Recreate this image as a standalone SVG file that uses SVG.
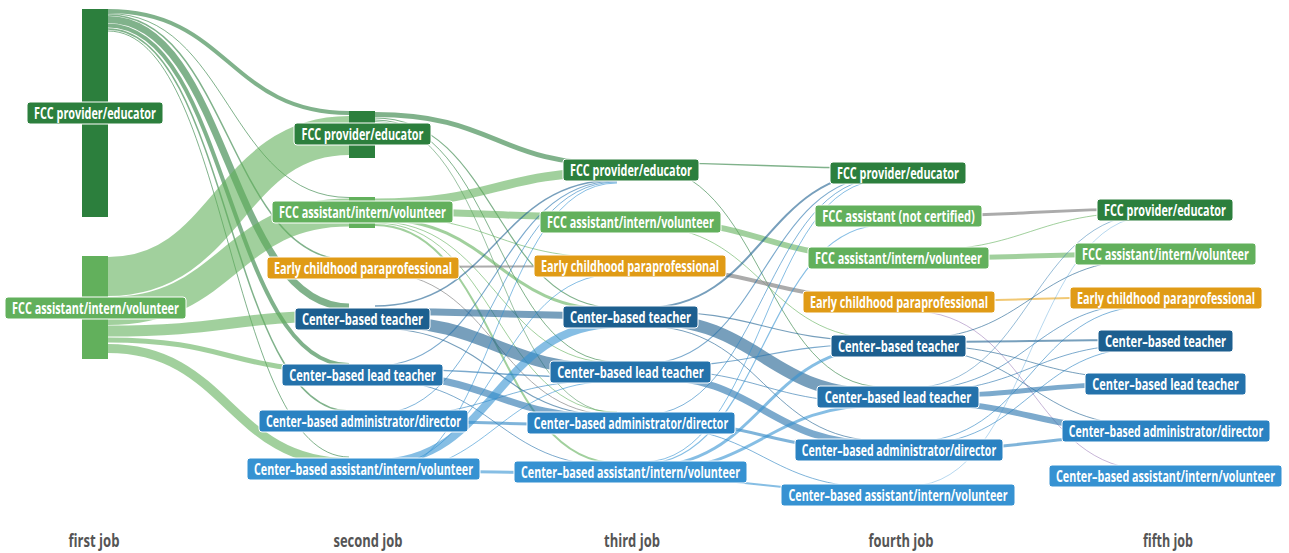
<svg xmlns="http://www.w3.org/2000/svg" width="1289" height="553" viewBox="0 0 1289 553">
<style>
.lk{fill:none}
.dg{stroke:#2c7f3d;stroke-opacity:.6}
.lg{stroke:#62b05c;stroke-opacity:.6}
.gy{stroke:#8f8f8f;stroke-opacity:.75}
.or{stroke:#e8a317;stroke-opacity:.6}
.pu{stroke:#9a7bb8;stroke-opacity:.7}
.te{stroke:#1d5f8f;stroke-opacity:.6}
.le{stroke:#2472ab;stroke-opacity:.6}
.ad{stroke:#2a82c2;stroke-opacity:.6}
.as{stroke:#3692d2;stroke-opacity:.6}
.lab rect{stroke:#ffffff;stroke-width:1}
.lab text{font-family:"Open Sans","Liberation Sans",sans-serif;font-weight:700;font-size:16px;fill:#ffffff;text-anchor:middle}
.c-dg{fill:#2c7f3d}.c-lg{fill:#62b05c}.c-or{fill:#e09b16}.c-te{fill:#1d5f8f}.c-le{fill:#2472ab}.c-ad{fill:#2a82c2}.c-as{fill:#3692d2}
.axis{font-family:"Open Sans","Liberation Sans",sans-serif;font-weight:700;font-size:17px;fill:#555555;text-anchor:middle}
</style>
<g id="links">
<path class="lk dg" stroke-width="4" d="M108 11 C228.5 11 228.5 113 349 113"/>
<path class="lk dg" stroke-width="1" d="M108 13.5 C228.5 13.5 228.5 197.5 349 197.5"/>
<path class="lk dg" stroke-width="1.5" d="M108 15 C228.5 15 228.5 260 349 260"/>
<path class="lk dg" stroke-width="7" d="M108 19.5 C228.5 19.5 228.5 307 349 307"/>
<path class="lk dg" stroke-width="4" d="M108 25.5 C228.5 25.5 228.5 365 349 365"/>
<path class="lk dg" stroke-width="1.5" d="M108 29 C228.5 29 228.5 411 349 411"/>
<path class="lk dg" stroke-width="1" d="M108 31 C228.5 31 228.5 457 349 457"/>
<path class="lk lg" stroke-width="39" d="M108 276.5 C228.5 276.5 228.5 135.5 349 135.5"/>
<path class="lk lg" stroke-width="28" d="M108 311 C228.5 311 228.5 212.5 349 212.5"/>
<path class="lk lg" stroke-width="11" d="M108 331 C228.5 331 228.5 316 349 316"/>
<path class="lk lg" stroke-width="5" d="M108 340 C228.5 340 228.5 371 349 371"/>
<path class="lk lg" stroke-width="9" d="M108 348.5 C228.5 348.5 228.5 462.5 349 462.5"/>
<path class="lk dg" stroke-width="5" d="M375 114.5 C496 114.5 496 164.5 617 164.5"/>
<path class="lk dg" stroke-width="1.2" d="M375 118 C496 118 496 308 617 308"/>
<path class="lk dg" stroke-width="1" d="M375 120 C496 120 496 362 617 362"/>
<path class="lk dg" stroke-width=".8" d="M375 121.5 C496 121.5 496 413 617 413"/>
<path class="lk lg" stroke-width="9" d="M375 203 C496 203 496 172 617 172"/>
<path class="lk lg" stroke-width="7" d="M375 211.5 C496 211.5 496 217.5 617 217.5"/>
<path class="lk lg" stroke-width="1" d="M375 216 C496 216 496 258 617 258"/>
<path class="lk lg" stroke-width="3" d="M375 219 C496 219 496 310 617 310"/>
<path class="lk lg" stroke-width="1" d="M375 221.5 C496 221.5 496 363 617 363"/>
<path class="lk lg" stroke-width="1" d="M375 223 C496 223 496 412 617 412"/>
<path class="lk lg" stroke-width="2" d="M375 225 C496 225 496 463 617 463"/>
<path class="lk gy" stroke-width="2" d="M375 267 C496 267 496 266 617 266"/>
<path class="lk gy" stroke-width="1" d="M375 272 C496 272 496 415 617 415"/>
<path class="lk te" stroke-width="1.5" d="M375 306 C496 306 496 180 617 180"/>
<path class="lk te" stroke-width="7" d="M375 311.5 C496 311.5 496 315.5 617 315.5"/>
<path class="lk te" stroke-width="12" d="M375 321 C496 321 496 370 617 370"/>
<path class="lk te" stroke-width="1.2" d="M375 328 C496 328 496 416 617 416"/>
<path class="lk le" stroke-width="1.2" d="M375 366 C496 366 496 181 617 181"/>
<path class="lk le" stroke-width="1.5" d="M375 369 C496 369 496 378 617 378"/>
<path class="lk le" stroke-width="7" d="M375 375 C496 375 496 418 617 418"/>
<path class="lk le" stroke-width="1" d="M375 380 C496 380 496 466 617 466"/>
<path class="lk ad" stroke-width="1" d="M375 414 C496 414 496 182 617 182"/>
<path class="lk ad" stroke-width="1" d="M375 417 C496 417 496 380 617 380"/>
<path class="lk ad" stroke-width="3" d="M375 421 C496 421 496 425 617 425"/>
<path class="lk as" stroke-width="8" d="M375 463 C496 463 496 324 617 324"/>
<path class="lk as" stroke-width="1" d="M375 468 C496 468 496 274 617 274"/>
<path class="lk as" stroke-width="3" d="M375 471 C496 471 496 473 617 473"/>
<path class="lk as" stroke-width="1" d="M375 474 C496 474 496 381 617 381"/>
<path class="lk as" stroke-width="1" d="M375 476 C496 476 496 183 617 183"/>
<path class="lk dg" stroke-width="1.5" d="M643 163 C763.5 163 763.5 168 884 168"/>
<path class="lk dg" stroke-width="1" d="M643 166 C763.5 166 763.5 387 884 387"/>
<path class="lk lg" stroke-width="6" d="M643 221 C763.5 221 763.5 257 884 257"/>
<path class="lk lg" stroke-width="1" d="M643 226 C763.5 226 763.5 339 884 339"/>
<path class="lk gy" stroke-width="4" d="M643 268 C763.5 268 763.5 298 884 298"/>
<path class="lk te" stroke-width="2" d="M643 308 C763.5 308 763.5 172 884 172"/>
<path class="lk te" stroke-width="1.2" d="M643 311 C763.5 311 763.5 341 884 341"/>
<path class="lk te" stroke-width="12" d="M643 319 C763.5 319 763.5 395 884 395"/>
<path class="lk te" stroke-width="1" d="M643 326 C763.5 326 763.5 441 884 441"/>
<path class="lk le" stroke-width="1.2" d="M643 364 C763.5 364 763.5 176 884 176"/>
<path class="lk le" stroke-width="1.2" d="M643 367 C763.5 367 763.5 344 884 344"/>
<path class="lk le" stroke-width="1" d="M643 369.5 C763.5 369.5 763.5 403 884 403"/>
<path class="lk le" stroke-width="7" d="M643 375.5 C763.5 375.5 763.5 444.5 884 444.5"/>
<path class="lk ad" stroke-width="1" d="M643 415 C763.5 415 763.5 178 884 178"/>
<path class="lk ad" stroke-width="3" d="M643 421 C763.5 421 763.5 450 884 450"/>
<path class="lk ad" stroke-width="1" d="M643 426 C763.5 426 763.5 488 884 488"/>
<path class="lk as" stroke-width="1" d="M643 462 C763.5 462 763.5 180 884 180"/>
<path class="lk as" stroke-width="1.2" d="M643 464 C763.5 464 763.5 225 884 225"/>
<path class="lk as" stroke-width="3" d="M643 467 C763.5 467 763.5 347 884 347"/>
<path class="lk as" stroke-width="3" d="M643 471 C763.5 471 763.5 405 884 405"/>
<path class="lk as" stroke-width="2" d="M643 478 C763.5 478 763.5 492 884 492"/>
<path class="lk gy" stroke-width="3" d="M910 216 C1030.5 216 1030.5 209 1151 209"/>
<path class="lk lg" stroke-width="1" d="M910 251 C1030.5 251 1030.5 212 1151 212"/>
<path class="lk lg" stroke-width="5" d="M910 258 C1030.5 258 1030.5 254 1151 254"/>
<path class="lk or" stroke-width="2" d="M910 301 C1030.5 301 1030.5 297 1151 297"/>
<path class="lk pu" stroke-width=".8" d="M910 311 C1030.5 311 1030.5 470 1151 470"/>
<path class="lk te" stroke-width="1" d="M910 339 C1030.5 339 1030.5 259 1151 259"/>
<path class="lk te" stroke-width="2" d="M910 342 C1030.5 342 1030.5 340 1151 340"/>
<path class="lk te" stroke-width="1" d="M910 345 C1030.5 345 1030.5 379 1151 379"/>
<path class="lk te" stroke-width="1" d="M910 349 C1030.5 349 1030.5 426 1151 426"/>
<path class="lk le" stroke-width=".8" d="M910 388 C1030.5 388 1030.5 214 1151 214"/>
<path class="lk le" stroke-width="1" d="M910 390 C1030.5 390 1030.5 303 1151 303"/>
<path class="lk le" stroke-width="1" d="M910 392 C1030.5 392 1030.5 344 1151 344"/>
<path class="lk le" stroke-width="5" d="M910 396 C1030.5 396 1030.5 384 1151 384"/>
<path class="lk le" stroke-width="6" d="M910 402 C1030.5 402 1030.5 430 1151 430"/>
<path class="lk ad" stroke-width="1" d="M910 442 C1030.5 442 1030.5 306 1151 306"/>
<path class="lk ad" stroke-width="1" d="M910 445 C1030.5 445 1030.5 347 1151 347"/>
<path class="lk ad" stroke-width="3" d="M910 450 C1030.5 450 1030.5 436 1151 436"/>
<path class="lk as" stroke-width=".6" d="M910 486 C1030.5 486 1030.5 216 1151 216"/>
</g>
<g id="col1-fcc-provider" class="lab">
<rect class="c-dg" x="82" y="9" width="26" height="208" style="stroke:none"/>
<rect class="c-dg" x="27" y="102" width="136" height="22" rx="3"/>
<text transform="translate(95 118.7) scale(0.67 1)" textLength="182" lengthAdjust="spacingAndGlyphs">FCC provider/educator</text>
</g>
<g id="col1-fcc-assistant" class="lab">
<rect class="c-lg" x="82" y="256" width="26" height="103" style="stroke:none"/>
<rect class="c-lg" x="5" y="297" width="181" height="22" rx="3"/>
<text transform="translate(95.5 313.7) scale(0.67 1)" textLength="249" lengthAdjust="spacingAndGlyphs">FCC assistant/intern/volunteer</text>
</g>
<g id="col2-fcc-provider" class="lab">
<rect class="c-dg" x="349" y="111" width="26" height="47" style="stroke:none"/>
<rect class="c-dg" x="294" y="123" width="137" height="22" rx="3"/>
<text transform="translate(362.5 139.7) scale(0.67 1)" textLength="182" lengthAdjust="spacingAndGlyphs">FCC provider/educator</text>
</g>
<g id="col2-fcc-assistant" class="lab">
<rect class="c-lg" x="349" y="197" width="26" height="31" style="stroke:none"/>
<rect class="c-lg" x="272" y="201" width="181" height="22" rx="3"/>
<text transform="translate(362.5 217.7) scale(0.67 1)" textLength="249" lengthAdjust="spacingAndGlyphs">FCC assistant/intern/volunteer</text>
</g>
<g id="col2-early-childhood" class="lab">
<rect class="c-or" x="267" y="257" width="192" height="22" rx="3"/>
<text transform="translate(363 273.7) scale(0.67 1)" textLength="266" lengthAdjust="spacingAndGlyphs">Early childhood paraprofessional</text>
</g>
<g id="col2-teacher" class="lab">
<rect class="c-te" x="295" y="308" width="135" height="22" rx="3"/>
<text transform="translate(362.5 324.7) scale(0.67 1)" textLength="181" lengthAdjust="spacingAndGlyphs">Center–based teacher</text>
</g>
<g id="col2-lead-teacher" class="lab">
<rect class="c-le" x="282" y="364" width="161" height="22" rx="3"/>
<text transform="translate(362.5 380.7) scale(0.67 1)" textLength="219" lengthAdjust="spacingAndGlyphs">Center–based lead teacher</text>
</g>
<g id="col2-admin" class="lab">
<rect class="c-ad" x="259" y="410" width="209" height="22" rx="3"/>
<text transform="translate(363.5 426.7) scale(0.67 1)" textLength="291" lengthAdjust="spacingAndGlyphs">Center–based administrator/director</text>
</g>
<g id="col2-assistant" class="lab">
<rect class="c-as" x="247" y="458" width="233" height="22" rx="3"/>
<text transform="translate(363.5 474.7) scale(0.67 1)" textLength="327" lengthAdjust="spacingAndGlyphs">Center–based assistant/intern/volunteer</text>
</g>
<g id="col3-fcc-provider" class="lab">
<rect class="c-dg" x="563" y="159" width="136" height="22" rx="3"/>
<text transform="translate(631 175.7) scale(0.67 1)" textLength="182" lengthAdjust="spacingAndGlyphs">FCC provider/educator</text>
</g>
<g id="col3-fcc-assistant" class="lab">
<rect class="c-lg" x="540" y="211" width="181" height="22" rx="3"/>
<text transform="translate(630.5 227.7) scale(0.67 1)" textLength="249" lengthAdjust="spacingAndGlyphs">FCC assistant/intern/volunteer</text>
</g>
<g id="col3-early-childhood" class="lab">
<rect class="c-or" x="534" y="255" width="192" height="22" rx="3"/>
<text transform="translate(630 271.7) scale(0.67 1)" textLength="266" lengthAdjust="spacingAndGlyphs">Early childhood paraprofessional</text>
</g>
<g id="col3-teacher" class="lab">
<rect class="c-te" x="563" y="306" width="135" height="22" rx="3"/>
<text transform="translate(630.5 322.7) scale(0.67 1)" textLength="181" lengthAdjust="spacingAndGlyphs">Center–based teacher</text>
</g>
<g id="col3-lead-teacher" class="lab">
<rect class="c-le" x="550" y="361" width="161" height="22" rx="3"/>
<text transform="translate(630.5 377.7) scale(0.67 1)" textLength="219" lengthAdjust="spacingAndGlyphs">Center–based lead teacher</text>
</g>
<g id="col3-admin" class="lab">
<rect class="c-ad" x="527" y="412" width="208" height="22" rx="3"/>
<text transform="translate(631 428.7) scale(0.67 1)" textLength="290" lengthAdjust="spacingAndGlyphs">Center–based administrator/director</text>
</g>
<g id="col3-assistant" class="lab">
<rect class="c-as" x="514" y="461" width="233" height="22" rx="3"/>
<text transform="translate(630.5 477.7) scale(0.67 1)" textLength="327" lengthAdjust="spacingAndGlyphs">Center–based assistant/intern/volunteer</text>
</g>
<g id="col4-fcc-provider" class="lab">
<rect class="c-dg" x="830" y="162" width="136" height="22" rx="3"/>
<text transform="translate(898 178.7) scale(0.67 1)" textLength="182" lengthAdjust="spacingAndGlyphs">FCC provider/educator</text>
</g>
<g id="col4-fcc-not-certified" class="lab">
<rect class="c-lg" x="815" y="205" width="167" height="22" rx="3"/>
<text transform="translate(898.5 221.7) scale(0.67 1)" textLength="228" lengthAdjust="spacingAndGlyphs">FCC assistant (not certified)</text>
</g>
<g id="col4-fcc-assistant" class="lab">
<rect class="c-lg" x="808" y="247" width="181" height="22" rx="3"/>
<text transform="translate(898.5 263.7) scale(0.67 1)" textLength="249" lengthAdjust="spacingAndGlyphs">FCC assistant/intern/volunteer</text>
</g>
<g id="col4-early-childhood" class="lab">
<rect class="c-or" x="803" y="291" width="192" height="22" rx="3"/>
<text transform="translate(899 307.7) scale(0.67 1)" textLength="266" lengthAdjust="spacingAndGlyphs">Early childhood paraprofessional</text>
</g>
<g id="col4-teacher" class="lab">
<rect class="c-te" x="831" y="335" width="135" height="22" rx="3"/>
<text transform="translate(898.5 351.7) scale(0.67 1)" textLength="181" lengthAdjust="spacingAndGlyphs">Center–based teacher</text>
</g>
<g id="col4-lead-teacher" class="lab">
<rect class="c-le" x="817" y="386" width="162" height="22" rx="3"/>
<text transform="translate(898 402.7) scale(0.67 1)" textLength="219" lengthAdjust="spacingAndGlyphs">Center–based lead teacher</text>
</g>
<g id="col4-admin" class="lab">
<rect class="c-ad" x="795" y="439" width="208" height="22" rx="3"/>
<text transform="translate(899 455.7) scale(0.67 1)" textLength="290" lengthAdjust="spacingAndGlyphs">Center–based administrator/director</text>
</g>
<g id="col4-assistant" class="lab">
<rect class="c-as" x="781" y="484" width="234" height="22" rx="3"/>
<text transform="translate(898 500.7) scale(0.67 1)" textLength="327" lengthAdjust="spacingAndGlyphs">Center–based assistant/intern/volunteer</text>
</g>
<g id="col5-fcc-provider" class="lab">
<rect class="c-dg" x="1097" y="199" width="136" height="22" rx="3"/>
<text transform="translate(1165 215.7) scale(0.67 1)" textLength="182" lengthAdjust="spacingAndGlyphs">FCC provider/educator</text>
</g>
<g id="col5-fcc-assistant" class="lab">
<rect class="c-lg" x="1075" y="243" width="181" height="22" rx="3"/>
<text transform="translate(1165.5 259.7) scale(0.67 1)" textLength="249" lengthAdjust="spacingAndGlyphs">FCC assistant/intern/volunteer</text>
</g>
<g id="col5-early-childhood" class="lab">
<rect class="c-or" x="1070" y="287" width="192" height="22" rx="3"/>
<text transform="translate(1166 303.7) scale(0.67 1)" textLength="266" lengthAdjust="spacingAndGlyphs">Early childhood paraprofessional</text>
</g>
<g id="col5-teacher" class="lab">
<rect class="c-te" x="1098" y="330" width="135" height="22" rx="3"/>
<text transform="translate(1165.5 346.7) scale(0.67 1)" textLength="181" lengthAdjust="spacingAndGlyphs">Center–based teacher</text>
</g>
<g id="col5-lead-teacher" class="lab">
<rect class="c-le" x="1085" y="373" width="161" height="22" rx="3"/>
<text transform="translate(1165.5 389.7) scale(0.67 1)" textLength="219" lengthAdjust="spacingAndGlyphs">Center–based lead teacher</text>
</g>
<g id="col5-admin" class="lab">
<rect class="c-ad" x="1062" y="420" width="208" height="22" rx="3"/>
<text transform="translate(1166 436.7) scale(0.67 1)" textLength="290" lengthAdjust="spacingAndGlyphs">Center–based administrator/director</text>
</g>
<g id="col5-assistant" class="lab">
<rect class="c-as" x="1049" y="465" width="233" height="22" rx="3"/>
<text transform="translate(1165.5 481.7) scale(0.67 1)" textLength="327" lengthAdjust="spacingAndGlyphs">Center–based assistant/intern/volunteer</text>
</g>
<g id="axis">
<text class="axis" x="94" y="547" textLength="51" lengthAdjust="spacingAndGlyphs">first job</text>
<text class="axis" x="368" y="547" textLength="69" lengthAdjust="spacingAndGlyphs">second job</text>
<text class="axis" x="632" y="547" textLength="56" lengthAdjust="spacingAndGlyphs">third job</text>
<text class="axis" x="901" y="547" textLength="65" lengthAdjust="spacingAndGlyphs">fourth job</text>
<text class="axis" x="1168" y="547" textLength="50" lengthAdjust="spacingAndGlyphs">fifth job</text>
</g>
</svg>
